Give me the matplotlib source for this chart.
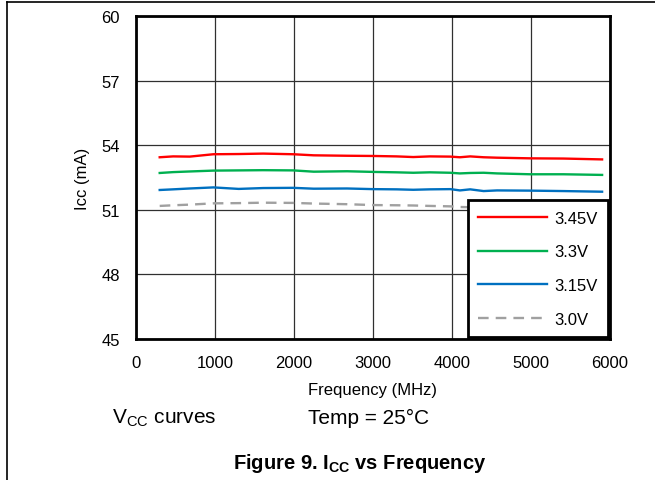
import matplotlib
matplotlib.use("Agg")
import matplotlib.pyplot as plt
from matplotlib.lines import Line2D

plt.rcParams['font.family'] = ['Liberation Sans', 'DejaVu Sans']
plt.rcParams['mathtext.fontset'] = 'custom'
plt.rcParams['mathtext.rm'] = 'Liberation Sans'
plt.rcParams['mathtext.it'] = 'Liberation Sans:italic'
plt.rcParams['mathtext.bf'] = 'Liberation Sans:bold'

# ---- data ----
freq = [300, 470, 680, 980, 1300, 1610, 1990, 2250, 2670, 3000, 3300,
        3510, 3720, 3980, 4100, 4230, 4400, 4570, 4990, 5410, 5900]
icc_345 = [53.44, 53.48, 53.47, 53.58, 53.59, 53.61, 53.58, 53.53, 53.51, 53.50, 53.48,
           53.45, 53.48, 53.47, 53.44, 53.48, 53.44, 53.42, 53.39, 53.38, 53.34]
icc_330 = [52.71, 52.75, 52.78, 52.82, 52.83, 52.84, 52.83, 52.77, 52.79, 52.76, 52.74,
           52.72, 52.74, 52.72, 52.69, 52.71, 52.72, 52.69, 52.65, 52.65, 52.62]
icc_315 = [51.92, 51.95, 51.99, 52.04, 51.97, 52.01, 52.02, 51.98, 51.99, 51.96, 51.95,
           51.93, 51.95, 51.96, 51.90, 51.95, 51.87, 51.90, 51.89, 51.87, 51.84]
icc_300 = [51.18, 51.21, 51.24, 51.30, 51.31, 51.33, 51.32, 51.29, 51.26, 51.22, 51.21,
           51.20, 51.18, 51.16, 51.13, 51.12, 51.12, 51.11, 51.10, 51.08, 51.06]
labels = ['3.45V', '3.3V', '3.15V', '3.0V']
xticks = [0, 1000, 2000, 3000, 4000, 5000, 6000]
yticks = [45, 48, 51, 54, 57, 60]

W, H = 655, 481
fig = plt.figure(figsize=(W / 100, H / 100), dpi=100)
ax = fig.add_axes([136 / W, 1 - 340 / H, 474 / W, 323 / H])

lw = 1.7
ax.plot(freq, icc_345, color='#FF0000', lw=lw, label=labels[0], zorder=3)
ax.plot(freq, icc_330, color='#00B050', lw=lw, label=labels[1], zorder=3)
ax.plot(freq, icc_315, color='#0070C0', lw=lw, label=labels[2], zorder=3)
ax.plot(freq, icc_300, color='#A0A0A0', lw=lw, ls=(0, (4.5, 3)), label=labels[3], zorder=3)

ax.set_xlim(0, 6000)
ax.set_ylim(45, 60)
ax.set_xticks(xticks)
ax.set_yticks(yticks)
ax.tick_params(length=0, labelsize=12, pad=11.5)
ax.grid(True, color='#303030', lw=0.9, zorder=1)
ax.set_axisbelow(True)
for s in ax.spines.values():
    s.set_linewidth(2.0)
    s.set_color('black')

ax.set_xlabel('Frequency (MHz)', fontsize=12)
ax.xaxis.set_label_coords((372 - 136) / 474, -(391 - 340) / 323)
ax.xaxis.label.set_va('center')
ax.set_ylabel('Icc (mA)', fontsize=12)
ax.yaxis.set_label_coords(-(136 - 83) / 474, 0.5)
ax.yaxis.label.set_va('center')

leg = ax.legend(loc='lower right', bbox_to_anchor=(0.9958, 0.005), borderaxespad=0,
                fontsize=12, handlelength=4.1, handletextpad=0.45, labelspacing=1.13,
                borderpad=0.62, fancybox=False, framealpha=1, edgecolor='black')
leg.get_frame().set_linewidth(2.0)
leg.set_zorder(5)

fig.text(112 / W, 1 - 424 / H, r'V$_{\mathrm{CC}}$ curves', fontsize=15, va='baseline', ha='left')
fig.text(369 / W, 1 - 424 / H, 'Temp = 25°C', fontsize=15, va='baseline', ha='center')
fig.text(360 / W, 1 - 469 / H, r'Figure 9. I$_{\mathbf{CC}}$ vs Frequency', fontsize=14.5,
         fontweight='bold', va='baseline', ha='center')

# figure border lines
fig.add_artist(Line2D([7 / W, 1.0], [1 - 3 / H, 1 - 3 / H], transform=fig.transFigure,
                      color='black', lw=1.2))
fig.add_artist(Line2D([7 / W, 7 / W], [1 - 3 / H, 0], transform=fig.transFigure,
                      color='black', lw=1.2))

fig.savefig('out.png', dpi=100)
